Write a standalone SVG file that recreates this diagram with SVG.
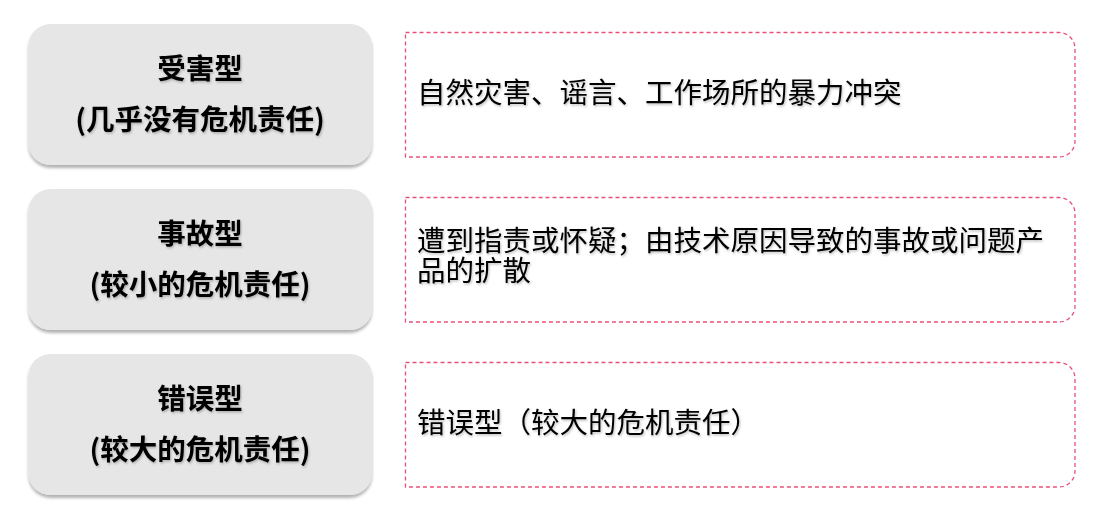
<svg xmlns="http://www.w3.org/2000/svg" width="1108" height="516" viewBox="0 0 1108 516">
<defs>
<filter id="sh" x="-10%" y="-10%" width="120%" height="130%">
<feDropShadow dx="0" dy="3" stdDeviation="1.5" flood-color="#000" flood-opacity="0.3"/>
</filter>
<filter id="tsh" x="-5%" y="-20%" width="110%" height="150%">
<feDropShadow dx="1" dy="1.5" stdDeviation="1" flood-color="#000" flood-opacity="0.25"/>
</filter>
<style>
.lb{fill:#e6e6e6;filter:url(#sh)}
.rb{fill:#fff;stroke:#e8507a;stroke-width:1.3;stroke-dasharray:4 3}
.lt{font-family:"Noto Sans CJK SC","Liberation Sans",sans-serif;font-size:28.5px;font-weight:bold;fill:#000;text-anchor:middle;filter:url(#tsh)}
.rt{font-family:"Noto Sans CJK SC","Liberation Sans",sans-serif;font-size:28.5px;fill:#000;filter:url(#tsh)}
</style>
</defs>
<rect width="1108" height="516" fill="#fff"/>
<g id="row1-type">
<rect class="lb" x="28.5" y="24" width="343.5" height="141" rx="22"/>
<text class="lt" x="200" y="79">受害型</text>
<text class="lt" x="200" y="130">(几乎没有危机责任)</text>
</g>
<g id="row1-desc">
<path class="rb" d="M405.5,32.5 H1059 A16,16 0 0 1 1075,48.5 V141 A16,16 0 0 1 1059,157 H405.5 Z"/>
<text class="rt" x="417" y="103">自然灾害、谣言、工作场所的暴力冲突</text>
</g>
<g id="row2-type">
<rect class="lb" x="28.5" y="189" width="343.5" height="141" rx="22"/>
<text class="lt" x="200" y="244">事故型</text>
<text class="lt" x="200" y="295">(较小的危机责任)</text>
</g>
<g id="row2-desc">
<path class="rb" d="M405.5,197.5 H1059 A16,16 0 0 1 1075,213.5 V306 A16,16 0 0 1 1059,322 H405.5 Z"/>
<text class="rt" x="417" y="251">遭到指责或怀疑；由技术原因导致的事故或问题产</text>
<text class="rt" x="417" y="281">品的扩散</text>
</g>
<g id="row3-type">
<rect class="lb" x="28.5" y="354" width="343.5" height="141" rx="22"/>
<text class="lt" x="200" y="409">错误型</text>
<text class="lt" x="200" y="460">(较大的危机责任)</text>
</g>
<g id="row3-desc">
<path class="rb" d="M405.5,362.5 H1059 A16,16 0 0 1 1075,378.5 V471 A16,16 0 0 1 1059,487 H405.5 Z"/>
<text class="rt" x="417" y="433">错误型（较大的危机责任）</text>
</g>
<g id="connectors"/>
</svg>
